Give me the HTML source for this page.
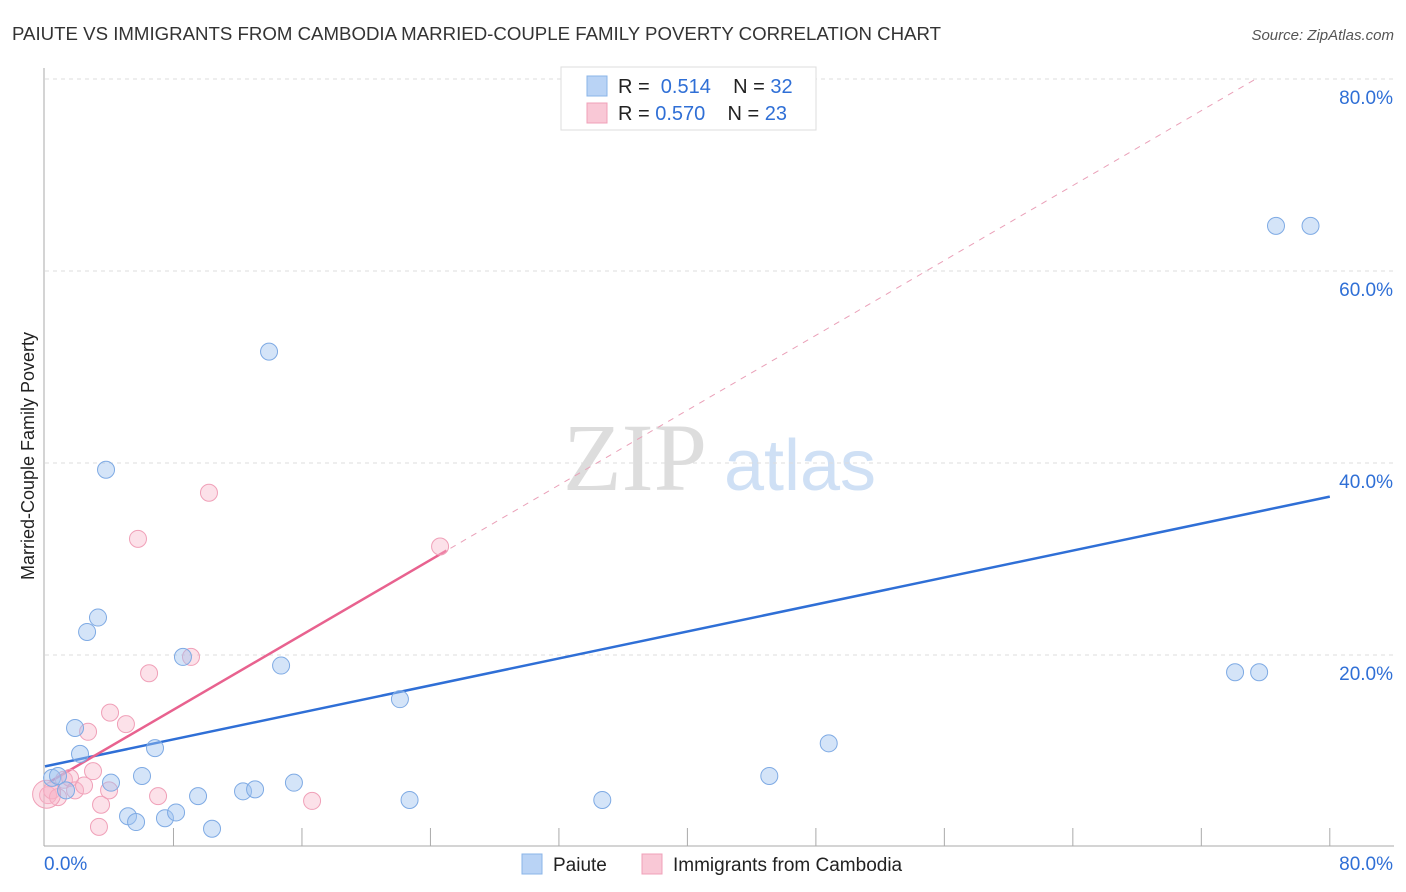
<!DOCTYPE html>
<html><head><meta charset="utf-8"><style>
body{margin:0;background:#fff;font-family:"Liberation Sans",sans-serif}
svg{display:block}
</style></head><body>
<svg id="chart" width="1406" height="892">
<text x="12" y="40" font-size="18" fill="#333" textLength="929" lengthAdjust="spacingAndGlyphs">PAIUTE VS IMMIGRANTS FROM CAMBODIA MARRIED-COUPLE FAMILY POVERTY CORRELATION CHART</text>
<text x="1394" y="40" font-size="15" fill="#555" font-style="italic" text-anchor="end">Source: ZipAtlas.com</text>
<text transform="translate(34,456) rotate(-90)" font-size="18" fill="#222" text-anchor="middle">Married-Couple Family Poverty</text>
<g><text x="635" y="490" font-size="96" fill="#ddd" font-family="Liberation Serif,serif" text-anchor="middle">ZIP</text><text x="800" y="490" font-size="72" fill="#cfe0f5" text-anchor="middle">atlas</text></g>
<g id="grid"></g><g id="lines"></g><g id="points"></g>
<g>
<rect x="561" y="67" width="255" height="63" fill="#fff" stroke="#ddd"/>
<rect x="587" y="76" width="20" height="20" fill="#b9d3f5" stroke="#8ab4e8"/>
<text x="618" y="93" font-size="20" fill="#222">R = <tspan fill="#2f6fd6">&#160;0.514</tspan>&#160;&#160;&#160; N = <tspan fill="#2f6fd6">32</tspan></text>
<rect x="587" y="103" width="20" height="20" fill="#f9c8d6" stroke="#f0a0b8"/>
<text x="618" y="120" font-size="20" fill="#222">R = <tspan fill="#2f6fd6">0.570</tspan>&#160;&#160;&#160; N = <tspan fill="#2f6fd6">23</tspan></text>
</g>
<g>
<rect x="522" y="854" width="20" height="20" fill="#b9d3f5" stroke="#8ab4e8"/>
<text x="553" y="871" font-size="19" fill="#222">Paiute</text>
<rect x="642" y="854" width="20" height="20" fill="#f9c8d6" stroke="#f0a0b8"/>
<text x="673" y="871" font-size="19" fill="#222">Immigrants from Cambodia</text>
</g>
</svg>
<script>
const yTicks=[20,40,60,80];
const xTickLabels=["0.0%","80.0%"];
const paiuteX=[0.44,0.81,1.31,1.87,2.18,2.62,3.30,3.80,4.11,5.17,5.67,6.04,6.85,7.47,8.16,8.59,9.53,10.4,12.33,13.08,13.95,14.7,15.5,22.1,22.7,34.7,45.1,48.8,74.1,75.6,76.65,78.8];
const paiuteY=[7.2,7.4,5.9,12.4,9.7,22.4,23.9,39.3,6.7,3.2,2.6,7.4,10.3,3.0,3.6,19.8,5.3,1.9,5.8,6.0,51.6,18.9,6.7,15.4,4.9,4.9,7.4,10.8,18.2,18.2,64.7,64.7];
const cambX=[0.19,0.44,0.81,1.18,1.56,1.87,2.43,2.68,2.99,3.49,3.36,4.05,3.99,5.04,5.79,6.48,7.04,9.09,10.21,16.63,24.6,0.1];
const cambY=[5.4,5.9,5.2,7.0,7.2,5.9,6.4,12.0,7.9,4.4,2.1,14.0,5.9,12.8,32.1,18.1,5.3,19.8,36.9,4.8,31.3,5.5];
const paiuteFit=[8.4,36.5];
const cambFit=[6.5,0.975];
const NS="http://www.w3.org/2000/svg";
const X=v=>45+v*16.06, Y=v=>847-v*9.6;
function mk(p,t,a){const e=document.createElementNS(NS,t);for(const k in a)e.setAttribute(k,a[k]);document.getElementById(p).appendChild(e);return e;}
yTicks.forEach(t=>{
 const l=mk('grid','line',{x1:45,x2:1394,y1:Y(t),y2:Y(t),stroke:'#ddd','stroke-dasharray':'4,4'});
 
 
 const tx=mk('grid','text',{x:1393,y:Y(t)+25,'font-size':19,fill:'#2f6fd6','text-anchor':'end'});tx.textContent=t.toFixed(1)+'%';
 
 
});
mk('grid','line',{x1:44,x2:44,y1:68,y2:846,stroke:'#aaa'});
mk('grid','line',{x1:44,x2:1394,y1:846,y2:846,stroke:'#aaa'});
for(let i=1;i<=10;i++){mk('grid','line',{x1:X(i*8),x2:X(i*8),y1:828,y2:846,stroke:'#aaa'});}
let t0=mk('grid','text',{x:44,y:870,'font-size':19,fill:'#2f6fd6'});t0.textContent=xTickLabels[0];


let t1=mk('grid','text',{x:1393,y:870,'font-size':19,fill:'#2f6fd6','text-anchor':'end'});t1.textContent=xTickLabels[1];


const bl=mk('lines','line',{x1:X(0),y1:Y(paiuteFit[0]),x2:X(80),y2:Y(paiuteFit[1]),stroke:'#2f6fd6','stroke-width':2.5});


const xe=(80-cambFit[0])/cambFit[1];
const dl=mk('lines','line',{x1:X(24.6),y1:Y(cambFit[0]+cambFit[1]*24.6),x2:X(xe),y2:Y(80),stroke:'#eaa0b8','stroke-dasharray':'6,6'});


const pl=mk('lines','line',{x1:X(0.3),y1:Y(cambFit[0]+cambFit[1]*0.3),x2:X(25),y2:Y(cambFit[0]+cambFit[1]*25),stroke:'#e8628f','stroke-width':2.5});


cambX.forEach((x,i)=>{const c=mk('points','circle',{cx:X(x),cy:Y(cambY[i]),r:i==cambX.length-1?14:8.5,fill:'rgba(248,180,200,0.4)',stroke:'#f0a0b8','stroke-width':1});

});
paiuteX.forEach((x,i)=>{const c=mk('points','circle',{cx:X(x),cy:Y(paiuteY[i]),r:8.5,fill:'rgba(160,196,240,0.45)',stroke:'#7eaae4','stroke-width':1});

});
</script>
</body></html>
